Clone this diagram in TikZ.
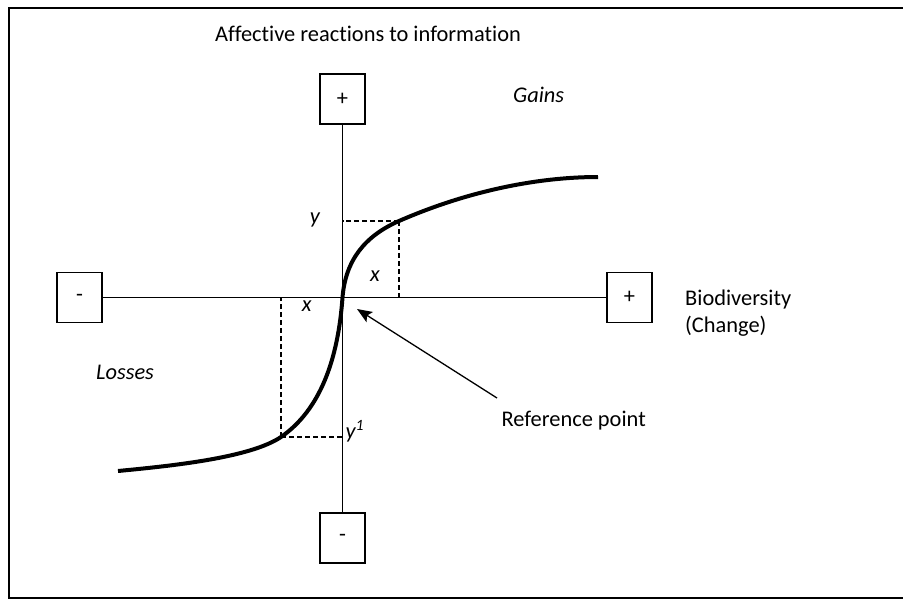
\documentclass[tikz,border=0pt]{standalone}
\usepackage{fontspec}
\setmainfont{Carlito}[Ligatures=CommonOff]
\usetikzlibrary{arrows.meta}
\begin{document}
\begin{tikzpicture}[x=1pt,y=-1pt,
  sign/.style={draw, line width=1.3pt, minimum width=45pt, minimum height=50pt, inner sep=0pt, font=\fontsize{22.4}{27}\selectfont},
  lbl/.style={inner sep=0pt, font=\fontsize{22.4}{27}\selectfont},
  ital/.style={inner sep=0pt, font=\fontsize{22.4}{27}\selectfont\itshape},
  axis/.style={line width=1.3pt},
  guide/.style={line width=1.3pt, dash pattern=on 5pt off 3pt},
  curve/.style={line width=4pt},
  pointer/.style={line width=1.3pt, -{Stealth[length=15pt,width=12pt,inset=3pt]}},
  frame/.style={line width=2.5pt}
]
\useasboundingbox (0,0) rectangle (903,600);
\draw[frame] (9,8) rectangle (910,598);

% sign boxes
\node[sign] (top) at (342.5,99) {+};
\node[sign] (bottom) at (342.5,538) {-};
\node[sign] (left) at (79.5,297.5) {-};
\node[sign] (right) at (629.5,297.5) {+};

% axes
\draw[axis] (top) -- (bottom);
\draw[axis] (left) -- (right);

% key points
\coordinate (O) at (342.5,297.5);
\coordinate (P) at (399,221);
\coordinate (Q) at (281,437);
\coordinate (Lend) at (118,471);
\coordinate (Rend) at (598,177);

% guides
\draw[guide] (P) -- (P |- O);
\draw[guide] (P) -- (P -| O);
\draw[guide] (Q) -- (Q |- O);
\draw[guide] (Q) -- (Q -| O);

% value curve
\draw[curve] (Lend) .. controls (170,466) and (250,458) .. (Q)
  .. controls (320,410) and (338,360) .. (O)
  .. controls (345.5,260) and (365,236) .. (P)
  .. controls (470,190) and (540,177) .. (Rend);

% labels
\node[lbl, anchor=base west] (title) at (215,41) {Affective reactions to information};
\node[ital, anchor=base west] (gains) at (513,102.5) {Gains};
\node[ital, anchor=base west] (losses) at (96,379) {Losses};
\node[ital, anchor=base] (xu) at (375,281.5) {x};
\node[ital, anchor=base] (xl) at (306.7,311.7) {x};
\node[ital, anchor=base] (yu) at (315,223.5) {y};
\node[ital, anchor=base west] (yl) at (345.5,438.5) {y\textsuperscript{1}};
\node[lbl, anchor=base west, align=left] (bio) at (685,332.3) {Biodiversity\\(Change)};
\node[lbl, anchor=base west] (ref) at (501.5,426.5) {Reference point};

% pointer
\coordinate (tail) at (497,398);
\coordinate (tip) at (357,309);
\draw[pointer] (tail) -- (tip);
\end{tikzpicture}
\end{document}
